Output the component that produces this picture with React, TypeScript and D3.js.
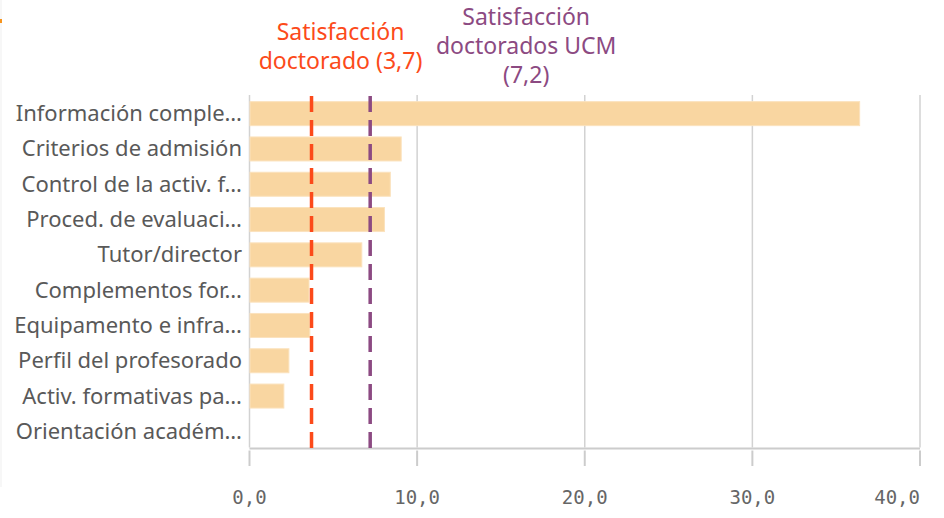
import { useEffect, useRef } from 'react';
import * as d3 from 'd3';

const categories = [
    'Información comple…',
    'Criterios de admisión',
    'Control de la activ. f…',
    'Proced. de evaluaci…',
    'Tutor/director',
    'Complementos for…',
    'Equipamento e infra…',
    'Perfil del profesorado',
    'Activ. formativas pa…',
    'Orientación académ…',
];
const values = [36.4, 9.05, 8.4, 8.05, 6.7, 3.55, 3.6, 2.35, 2.05, 0];
const xTicks = [0, 10, 20, 30, 40];
const refLines = [
    { value: 3.7, lines: ['Satisfacción', 'doctorado (3,7)'], color: '#fc4a1a', dx: 29, y0: 40 },
    { value: 7.2, lines: ['Satisfacción', 'doctorados UCM', '(7,2)'], color: '#8c4a82', dx: 156, y0: 25 },
];

export default function App() {
    const svgRef = useRef<SVGSVGElement>(null);

    useEffect(() => {
        if (!svgRef.current) return;
        d3.select(svgRef.current).selectAll('*').remove();

        const width = 944;
        const height = 518;
        const svg = d3.select(svgRef.current).attr('width', width).attr('height', height);

        const x = d3.scaleLinear().domain([0, 40]).range([249.5, 920]);
        const y = d3.scaleBand<string>().domain(categories).range([96, 449]).paddingInner(0.32).paddingOuter(0.16);
        const axisY = 448.5;
        const labelFont = '"Noto Sans", sans-serif';

        // marca naranja y linea del borde izquierdo
        svg.append('line').attr('x1', 1).attr('x2', 1).attr('y1', 0).attr('y2', 487)
            .attr('stroke', '#efefef').attr('stroke-width', 1);
        svg.append('rect').attr('x', 0).attr('y', 19).attr('width', 2).attr('height', 4).attr('fill', '#f7941d');

        // rejilla
        svg.append('g').selectAll('line').data(xTicks).join('line')
            .attr('x1', d => x(d)).attr('x2', d => x(d))
            .attr('y1', 95).attr('y2', axisY - 1)
            .attr('stroke', '#d2d2d2').attr('stroke-width', 1.5);

        // barras
        svg.append('g').selectAll('rect').data(values).join('rect')
            .attr('x', x(0) + 0.5)
            .attr('y', (_, i) => y(categories[i])!)
            .attr('width', d => Math.max(0, x(d) - x(0) - 0.5))
            .attr('height', y.bandwidth())
            .attr('fill', '#f9d6a1')
            .attr('stroke', d => d > 0 ? '#fbe2bd' : 'none')
            .attr('stroke-width', 1);

        // etiquetas de categoria
        svg.append('g').selectAll('text').data(categories).join('text')
            .attr('x', 242)
            .attr('y', d => y(d)! + y.bandwidth() / 2 - 1.5)
            .attr('text-anchor', 'end')
            .attr('dominant-baseline', 'central')
            .style('font-family', labelFont)
            .style('font-size', '22px')
            .style('fill', '#595959')
            .text(d => d);

        // eje x
        svg.append('line').attr('x1', x(0)).attr('x2', x(40)).attr('y1', axisY).attr('y2', axisY)
            .attr('stroke', '#cccccc').attr('stroke-width', 2);
        svg.append('g').selectAll('line').data(xTicks).join('line')
            .attr('x1', d => x(d)).attr('x2', d => x(d))
            .attr('y1', axisY + 2).attr('y2', 466)
            .attr('stroke', '#cccccc').attr('stroke-width', 2);
        svg.append('g').selectAll('text').data(xTicks).join('text')
            .attr('x', d => x(d))
            .attr('y', 504)
            .attr('text-anchor', (_, i) => i === xTicks.length - 1 ? 'end' : 'middle')
            .style('font-family', '"DejaVu Sans Mono", monospace')
            .style('font-size', '19px')
            .style('fill', '#666666')
            .text(d => d3.format('.1f')(d).replace('.', ','));

        // lineas de referencia
        refLines.forEach(r => {
            svg.append('line')
                .attr('x1', x(r.value)).attr('x2', x(r.value))
                .attr('y1', 96).attr('y2', axisY)
                .attr('stroke', r.color).attr('stroke-width', 3.5)
                .attr('stroke-dasharray', '16,8');
            const t = svg.append('text')
                .attr('text-anchor', 'middle')
                .style('font-family', labelFont)
                .style('font-size', '23px')
                .style('fill', r.color);
            r.lines.forEach((l, i) => {
                t.append('tspan').attr('x', x(r.value) + r.dx).attr('y', r.y0 + i * 29).text(l);
            });
        });
    }, []);

    return (
        <div>
            <svg ref={svgRef} style={{ position: 'absolute', left: 0, top: 0, display: 'block' }}></svg>
        </div>
    );
}
